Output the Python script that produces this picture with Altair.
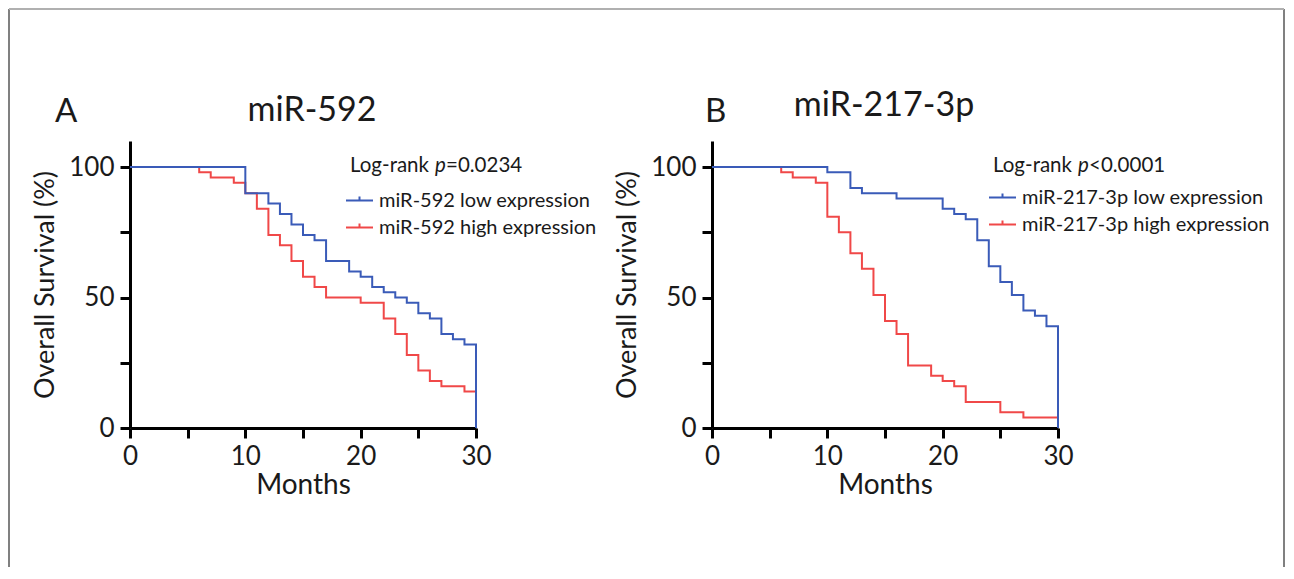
import altair as alt
import pandas as pd

# ---------------- data ----------------
# Panel A : miR-592
a_low_month = [0, 10, 12, 13, 14, 15, 16, 17, 19, 20, 21, 22, 23, 24, 25, 26, 27, 28, 29, 30]
a_low_surv = [100, 90, 86, 82, 78, 74, 72, 64, 60, 58, 54, 52, 50, 48, 44, 42, 36, 34, 32, 0]
a_high_month = [0, 6, 7, 9, 10, 11, 12, 13, 14, 15, 16, 17, 20, 22, 23, 24, 25, 26, 27, 29, 30]
a_high_surv = [100, 98, 96, 94, 90, 84, 74, 70, 64, 58, 54, 50, 48, 42, 36, 28, 22, 18, 16, 14, 14]

# Panel B : miR-217-3p
b_low_month = [0, 10, 12, 13, 16, 20, 21, 22, 23, 24, 25, 26, 27, 28, 29, 30]
b_low_surv = [100, 98, 92, 90, 88, 84, 82, 80, 72, 62, 56, 51, 45, 43, 39, 0]
b_high_month = [0, 6, 7, 9, 10, 11, 12, 13, 14, 15, 16, 17, 19, 20, 21, 22, 25, 27, 30]
b_high_surv = [100, 98, 96, 94, 81, 75, 67, 61, 51, 41, 36, 24, 20, 18, 16, 10, 6, 4, 4]

a_groups = ["miR-592 low expression", "miR-592 high expression"]
b_groups = ["miR-217-3p low expression", "miR-217-3p high expression"]
panel_letters = ["A", "B"]
panel_titles = ["miR-592", "miR-217-3p"]
p_values = ["=0.0234", "<0.0001"]

x_ticks = [0, 5, 10, 15, 20, 25, 30]
y_ticks = [0, 25, 50, 75, 100]

BLUE = "#3a5bb8"
RED = "#f04848"
FONT = "Lato"
TXT = "#1a1a1a"

W, H = 346, 287
LEG_FS = 20


def frame(low_m, low_s, high_m, high_s, groups):
    rows = []
    for m, s in zip(high_m, high_s):
        rows.append({"month": m, "surv": s, "group": groups[1], "o": 0})
    for m, s in zip(low_m, low_s):
        rows.append({"month": m, "surv": s, "group": groups[0], "o": 1})
    return pd.DataFrame(rows)


def text_layer(txt, x, y, size, align="left", style="normal"):
    return alt.Chart(pd.DataFrame({"t": [txt]})).mark_text(
        font=FONT, fontSize=size, align=align, baseline="alphabetic",
        color=TXT, fontStyle=style, clip=False
    ).encode(x=alt.value(x), y=alt.value(y), text="t:N")


def panel(df, groups, letter, title, pval, lx, ly, tx, title_x, title_y):
    lines = alt.Chart(df).mark_line(
        interpolate="step-after", strokeWidth=2, clip=False
    ).encode(
        x=alt.X("month:Q",
                scale=alt.Scale(domain=[0, 30], nice=False, zero=False),
                axis=alt.Axis(values=x_ticks,
                              labelExpr="datum.value % 10 === 0 ? datum.label : ''",
                              title="Months", grid=False, labelFlush=False,
                              labelOverlap=False, labelPadding=5,
                              titlePadding=2, titleFontSize=28)),
        y=alt.Y("surv:Q",
                scale=alt.Scale(domain=[0, 110], nice=False),
                axis=alt.Axis(values=y_ticks,
                              labelExpr="datum.value % 50 === 0 ? datum.label : ''",
                              title="Overall Survival (%)", grid=False,
                              labelOverlap=False, labelPadding=6,
                              titlePadding=9, titleFontSize=27)),
        color=alt.Color("group:N",
                        scale=alt.Scale(domain=groups, range=[BLUE, RED]),
                        legend=alt.Legend(
                            orient="none", legendX=lx, legendY=ly, title=None,
                            symbolType="M-1,0H1M0,0V-0.3", symbolSize=729,
                            symbolStrokeWidth=2, labelFont=FONT,
                            labelFontSize=LEG_FS, labelColor=TXT, labelLimit=0,
                            labelOffset=5, rowPadding=2, padding=0)),
        order=alt.Order("o:Q"),
        detail="group:N",
    )
    layers = [
        lines,
        text_layer(letter, title_x[0], title_y[0], 33),
        text_layer(title, title_x[1], title_y[1], 34, align="center"),
        text_layer("Log-rank", tx, 31, 20.5),
        text_layer("p", tx + 85, 31, 20.5, style="italic"),
        text_layer(pval, tx + 96, 31, 20.5),
    ]
    return alt.layer(*layers).properties(width=W, height=H)


df_a = frame(a_low_month, a_low_surv, a_high_month, a_high_surv, a_groups)
df_b = frame(b_low_month, b_low_surv, b_high_month, b_high_surv, b_groups)

one = pd.DataFrame({"k": [0]})
border = [
    alt.Chart(one).mark_rule(color="#808080", strokeWidth=2, clip=False).encode(
        x=alt.value(-121), y=alt.value(-132), y2=alt.value(426)),
    alt.Chart(one).mark_rule(color="#808080", strokeWidth=2, clip=False).encode(
        x=alt.value(1154), y=alt.value(-132), y2=alt.value(426)),
    alt.Chart(one).mark_rule(color="#b0b0b0", strokeWidth=2, clip=False).encode(
        x=alt.value(-121), x2=alt.value(1154), y=alt.value(-132)),
]

pa = panel(df_a, a_groups, panel_letters[0], panel_titles[0], p_values[0],
           lx=215, ly=45, tx=220, title_x=(-75, 182), title_y=(-19, -20))
pa = alt.layer(pa, *border)
pb = panel(df_b, b_groups, panel_letters[1], panel_titles[1], p_values[1],
           lx=276, ly=42, tx=281, title_x=(-7, 172), title_y=(-19, -25))

chart = alt.hconcat(pa, pb, spacing=236, bounds="flush").resolve_scale(
    color="independent").resolve_legend(color="independent").properties(
    padding=0, background="white"
).configure_view(stroke=None).configure_axis(
    domainColor="black", domainWidth=3, tickColor="black", tickWidth=3,
    tickSize=10, labelFont=FONT, labelFontSize=26, labelColor=TXT,
    titleFont=FONT, titleFontWeight="normal", titleColor=TXT
)

chart.save("out.html", embed_options={"renderer": "svg", "actions": False})
